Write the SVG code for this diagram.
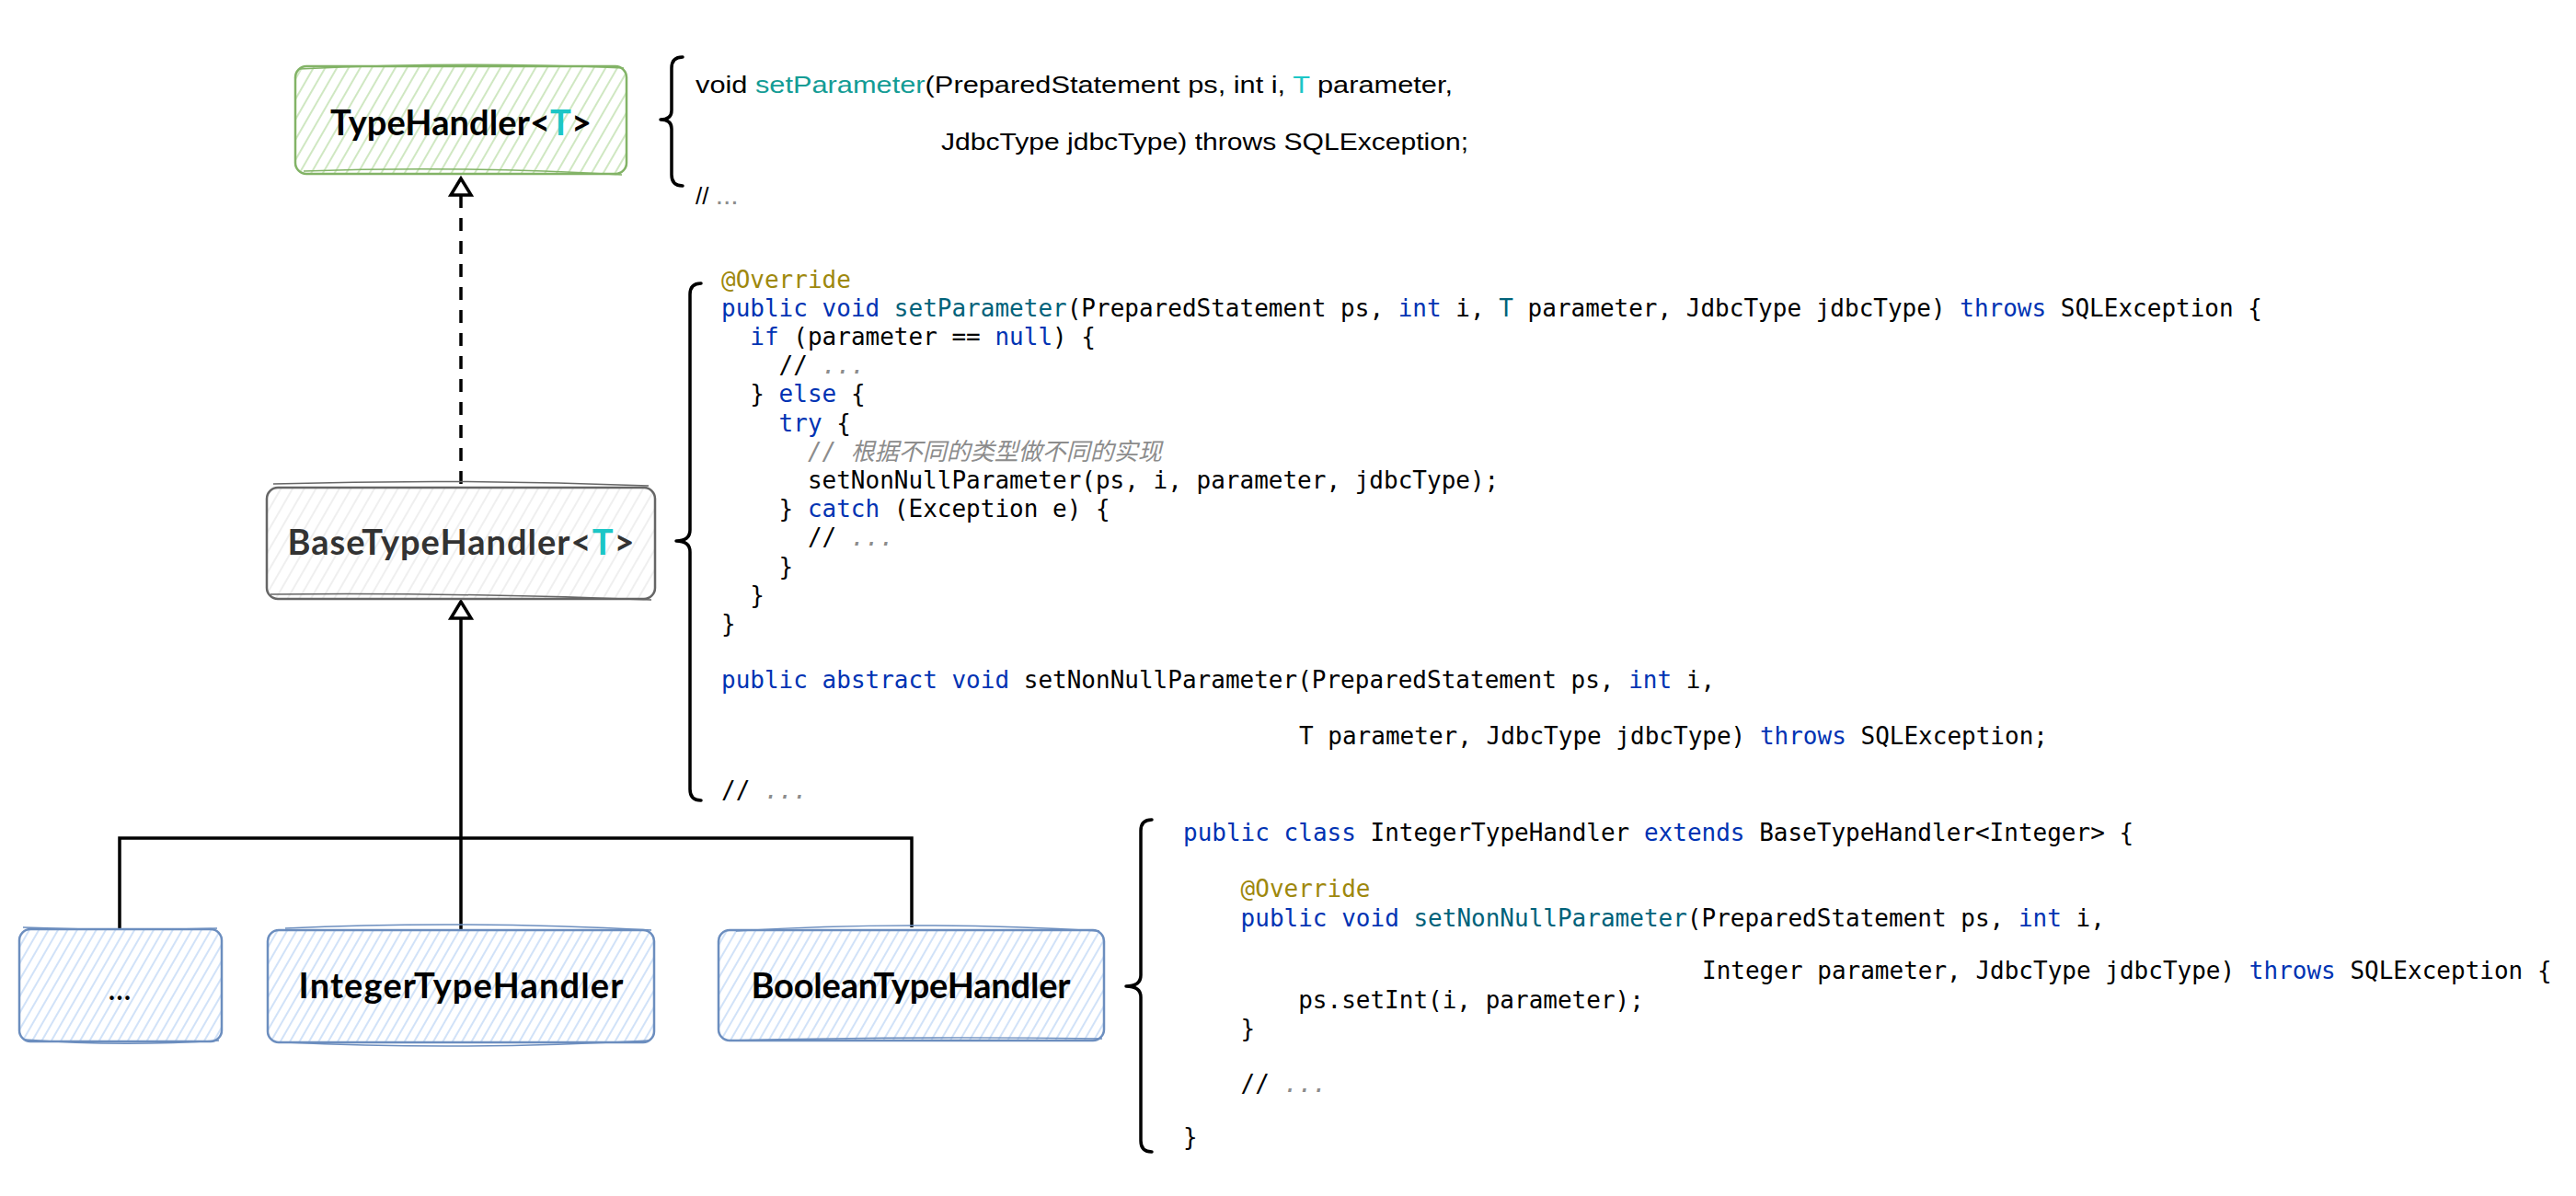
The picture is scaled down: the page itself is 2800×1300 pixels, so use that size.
<svg xmlns="http://www.w3.org/2000/svg" width="2800" height="1300" viewBox="0 0 2800 1300">
<defs>
<pattern id="hGreen" patternUnits="userSpaceOnUse" width="11" height="11" patternTransform="rotate(30)"><rect width="11" height="11" fill="#ffffff"/><line x1="2" y1="0" x2="2" y2="11" stroke="#c4e2b3" stroke-width="1.6"/></pattern>
<pattern id="hGray" patternUnits="userSpaceOnUse" width="11" height="11" patternTransform="rotate(30)"><rect width="11" height="11" fill="#ffffff"/><line x1="2" y1="0" x2="2" y2="11" stroke="#ebebeb" stroke-width="1.6"/></pattern>
<pattern id="hBlue" patternUnits="userSpaceOnUse" width="9" height="9" patternTransform="rotate(30)"><rect width="9" height="9" fill="#ffffff"/><line x1="2" y1="0" x2="2" y2="9" stroke="#c6dbf7" stroke-width="1.6"/></pattern>
</defs>
<style>
.lbl{font-family:"Lato","Liberation Sans",sans-serif;font-weight:bold;font-size:38px}
.hand{font-family:"Liberation Sans","Noto Sans",sans-serif;font-size:26px;fill:#000}
.code{font-family:"DejaVu Sans Mono","Noto Sans CJK SC",monospace;font-size:26px;fill:#000}
.kw{fill:#0033b3}
.fn{fill:#00627a}
.an{fill:#9e880d}
.cm{fill:#8c8c8c;font-style:italic}
.tc{fill:#1cc6c6}
.brace{fill:none;stroke:#000;stroke-width:3.5;stroke-linecap:round;stroke-linejoin:round}
.conn{fill:none;stroke:#000;stroke-width:3.5}
.arrowhead{fill:#fff;stroke:#000;stroke-width:3.5;stroke-linejoin:miter}
</style>
<rect width="2800" height="1300" fill="#ffffff"/>

<g id="connectors">
<line class="conn" x1="501" y1="212" x2="501" y2="530" stroke-dasharray="14 11"/>
<polygon class="arrowhead" points="501,194 490,212 512,212"/>
<line class="conn" x1="501" y1="672" x2="501" y2="1010"/>
<polygon class="arrowhead" points="501,654 490,672 512,672"/>
<polyline class="conn" points="130,1010 130,911 991,911 991,1008" stroke-width="4"/>
</g>

<g id="node-typehandler">
<rect x="321" y="72" width="360" height="117" rx="12" fill="url(#hGreen)" stroke="#82b366" stroke-width="2.5"/>
<path d="M325,75 Q500,66 678,74 M330,186 Q500,180 676,190" fill="none" stroke="#82b366" stroke-width="1.5"/>
<text class="lbl" x="501" y="147" text-anchor="middle" textLength="284" fill="#000">TypeHandler&lt;<tspan class="tc">T</tspan>&gt;</text>
</g>

<g id="node-basetypehandler">
<rect x="290" y="530" width="422" height="121" rx="12" fill="url(#hGray)" stroke="#666666" stroke-width="2.5"/>
<path d="M297,526 Q500,520 705,528 M294,646 Q500,644 708,652" fill="none" stroke="#666666" stroke-width="1.5"/>
<text class="lbl" x="501" y="603" text-anchor="middle" textLength="377" fill="#333333">BaseTypeHandler&lt;<tspan class="tc">T</tspan>&gt;</text>
</g>

<g id="node-etc">
<rect x="21" y="1010" width="220" height="122" rx="12" fill="url(#hBlue)" stroke="#6c8ebf" stroke-width="2.5"/>
<path d="M25,1008 Q130,1012 236,1009 M27,1130 Q130,1138 238,1131" fill="none" stroke="#6c8ebf" stroke-width="1.5"/>
<text x="130" y="1087" text-anchor="middle" font-family="Lato, 'Liberation Sans', sans-serif" font-size="36" fill="#000">...</text>
</g>

<g id="node-integertypehandler">
<rect x="291" y="1011" width="420" height="122" rx="12" fill="url(#hBlue)" stroke="#6c8ebf" stroke-width="2.5"/>
<path d="M310,1009 Q500,1000 708,1011 M310,1133 Q500,1142 706,1131" fill="none" stroke="#6c8ebf" stroke-width="1.5"/>
<text class="lbl" x="501" y="1085" text-anchor="middle" textLength="353" fill="#000">IntegerTypeHandler</text>
</g>

<g id="node-booleantypehandler">
<rect x="781" y="1011" width="419" height="120" rx="12" fill="url(#hBlue)" stroke="#6c8ebf" stroke-width="2.5"/>
<path d="M800,1012 Q990,1000 1195,1012 M790,1131 Q990,1126 1198,1129" fill="none" stroke="#6c8ebf" stroke-width="1.5"/>
<text class="lbl" x="990" y="1085" text-anchor="middle" textLength="347" fill="#000">BooleanTypeHandler</text>
</g>

<g id="code-typehandler">
<path class="brace" d="M742,62 Q730,62 730,74 L730,120 Q730,130 718,130 Q730,130 730,140 L730,190 Q730,202 742,202"/>
<text class="hand" x="756" y="101" textLength="823" lengthAdjust="spacingAndGlyphs">void <tspan fill="#139c95">setParameter</tspan>(PreparedStatement ps, int i, <tspan fill="#1cc6c6">T</tspan> parameter,</text>
<text class="hand" x="1023" y="163" textLength="573" lengthAdjust="spacingAndGlyphs">JdbcType jdbcType) throws SQLException;</text>
<text class="hand" x="756" y="222">// <tspan fill="#8c8c8c" font-size="30">...</tspan></text>
</g>

<g id="code-basetypehandler">
<path class="brace" d="M762,308 Q750,308 750,320 L750,576 Q750,588 735,588 Q750,588 750,600 L750,858 Q750,870 762,870"/>
<text class="code" x="784" y="313"><tspan class="an">@Override</tspan></text>
<text class="code" x="784" y="344"><tspan class="kw">public void</tspan> <tspan class="fn">setParameter</tspan>(PreparedStatement ps, <tspan class="kw">int</tspan> i, <tspan class="fn">T</tspan> parameter, JdbcType jdbcType) <tspan class="kw">throws</tspan> SQLException {</text>
<text class="code" x="815.3" y="375"><tspan class="kw">if</tspan> (parameter == <tspan class="kw">null</tspan>) {</text>
<text class="code" x="846.6" y="406">// <tspan class="cm">...</tspan></text>
<text class="code" x="815.3" y="437">} <tspan class="kw">else</tspan> {</text>
<text class="code" x="846.6" y="469"><tspan class="kw">try</tspan> {</text>
<text class="code cm" x="877.9" y="500">// 根据不同的类型做不同的实现</text>
<text class="code" x="877.9" y="531">setNonNullParameter(ps, i, parameter, jdbcType);</text>
<text class="code" x="846.6" y="562">} <tspan class="kw">catch</tspan> (Exception e) {</text>
<text class="code" x="877.9" y="593">// <tspan class="cm">...</tspan></text>
<text class="code" x="846.6" y="625">}</text>
<text class="code" x="815.3" y="656">}</text>
<text class="code" x="784" y="687">}</text>
<text class="code" x="784" y="748"><tspan class="kw">public abstract void</tspan> setNonNullParameter(PreparedStatement ps, <tspan class="kw">int</tspan> i,</text>
<text class="code" x="1412" y="809">T parameter, JdbcType jdbcType) <tspan class="kw">throws</tspan> SQLException;</text>
<text class="code" x="784" y="868">// <tspan class="cm">...</tspan></text>
</g>

<g id="code-integertypehandler">
<path class="brace" d="M1252,891 Q1240,891 1240,903 L1240,1060 Q1240,1072 1224,1072 Q1240,1072 1240,1084 L1240,1240 Q1240,1252 1252,1252"/>
<text class="code" x="1286" y="914"><tspan class="kw">public class</tspan> IntegerTypeHandler <tspan class="kw">extends</tspan> BaseTypeHandler&lt;Integer&gt; {</text>
<text class="code" x="1348.6" y="975"><tspan class="an">@Override</tspan></text>
<text class="code" x="1348.6" y="1007"><tspan class="kw">public void</tspan> <tspan class="fn">setNonNullParameter</tspan>(PreparedStatement ps, <tspan class="kw">int</tspan> i,</text>
<text class="code" x="1850" y="1064">Integer parameter, JdbcType jdbcType) <tspan class="kw">throws</tspan> SQLException {</text>
<text class="code" x="1411.2" y="1096">ps.setInt(i, parameter);</text>
<text class="code" x="1348.6" y="1127">}</text>
<text class="code" x="1348.6" y="1187">// <tspan class="cm">...</tspan></text>
<text class="code" x="1286" y="1245">}</text>
</g>
</svg>
